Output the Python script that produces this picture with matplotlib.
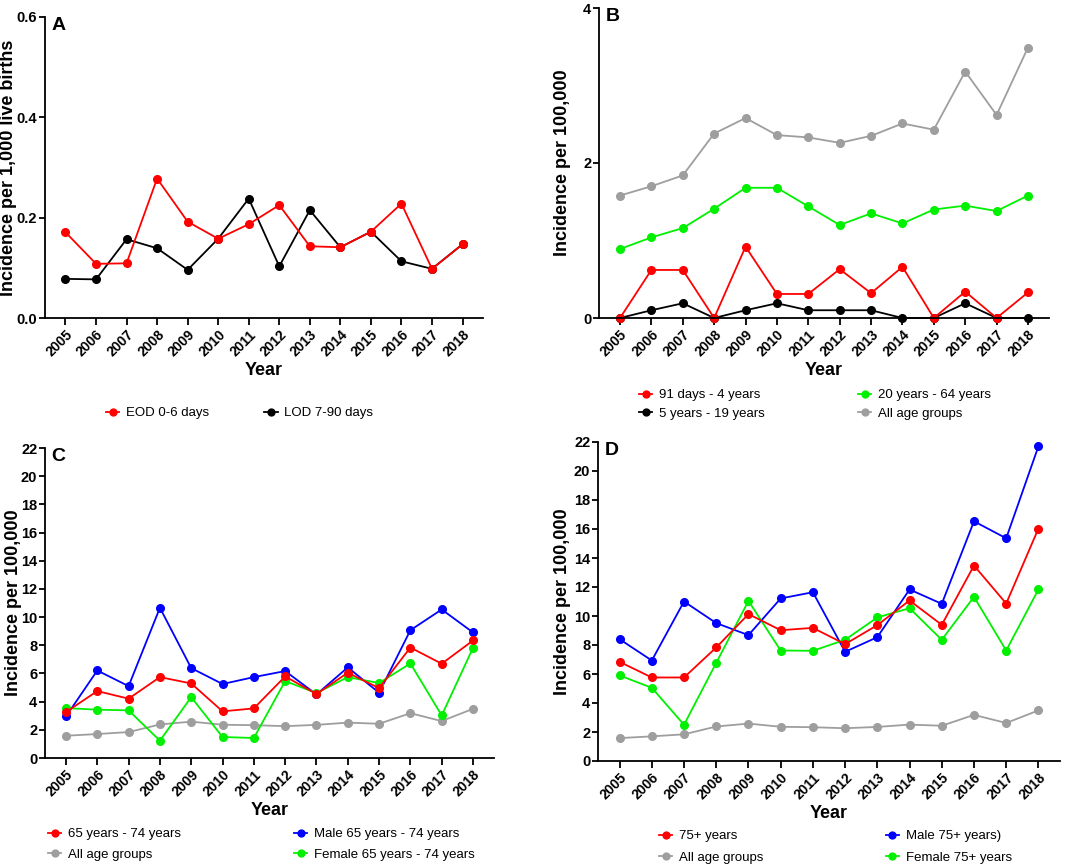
import numpy as np
import matplotlib
matplotlib.use("Agg")
import matplotlib.pyplot as plt

plt.rcParams['font.family'] = ['Liberation Sans', 'DejaVu Sans']

years = list(range(2005, 2019))

# panel A - per 1,000 live births
eod = [0.171, 0.108, 0.109, 0.278, 0.192, 0.158, 0.187, 0.225, 0.143, 0.141, 0.172, 0.228, 0.098, 0.147]
lod = [0.078, 0.077, 0.157, 0.139, 0.096, 0.158, 0.238, 0.103, 0.215, 0.141, 0.172, 0.113, 0.098, 0.147]

# panel B - per 100,000
all_ages = [1.58, 1.70, 1.84, 2.38, 2.58, 2.36, 2.33, 2.26, 2.35, 2.51, 2.43, 3.18, 2.62, 3.49]
age_20_64 = [0.89, 1.04, 1.16, 1.41, 1.68, 1.68, 1.44, 1.20, 1.35, 1.22, 1.40, 1.45, 1.38, 1.58]
age_91d_4y = [0.0, 0.62, 0.62, 0.0, 0.92, 0.31, 0.31, 0.63, 0.32, 0.66, 0.0, 0.34, 0.0, 0.33]
age_5_19 = [0.0, 0.10, 0.19, 0.0, 0.10, 0.19, 0.10, 0.10, 0.10, 0.0, 0.0, 0.19, 0.0, 0.0]

# panel C - 65 to 74 years
age_65_74 = [3.26, 4.75, 4.21, 5.74, 5.29, 3.31, 3.52, 5.79, 4.54, 6.05, 4.96, 7.84, 6.69, 8.34]
male_65_74 = [2.95, 6.21, 5.10, 10.66, 6.38, 5.25, 5.74, 6.17, 4.51, 6.43, 4.63, 9.07, 10.54, 8.91]
female_65_74 = [3.54, 3.43, 3.38, 1.23, 4.32, 1.49, 1.42, 5.46, 4.61, 5.74, 5.32, 6.71, 3.02, 7.82]

# panel D - 75+ years
age_75 = [6.84, 5.76, 5.76, 7.83, 10.13, 9.02, 9.18, 8.06, 9.37, 11.07, 9.39, 13.48, 10.86, 16.03]
male_75 = [8.40, 6.93, 11.00, 9.51, 8.68, 11.21, 11.64, 7.53, 8.54, 11.83, 10.84, 16.53, 15.36, 21.70]
female_75 = [5.90, 5.05, 2.50, 6.77, 11.04, 7.62, 7.60, 8.36, 9.90, 10.54, 8.36, 11.32, 7.62, 11.83]

RED = '#FF0000'
GREEN = '#00F000'
BLUE = '#0000FF'
GRAY = '#9E9E9E'
BLACK = '#000000'

W, H = 1084, 868
fig = plt.figure(figsize=(W / 100, H / 100), dpi=100)


def px_axes(left, top, right, bottom):
    ax = fig.add_axes([left / W, 1 - bottom / H, (right - left) / W, (bottom - top) / H])
    ax._px_left, ax._px_width = left, right - left
    return ax


def style(ax, ylim, yticks, ylabel, yfmt, letter, ylab_x):
    ax.set_xlim(2004.33, 2018.67)
    ax.set_ylim(*ylim)
    ax.set_yticks(yticks)
    ax.set_yticklabels([yfmt.format(v) for v in yticks], fontsize=10.5, fontweight='bold')
    ax.set_xticks(years)
    ax.set_xticklabels([str(y) for y in years], rotation=45, ha='right',
                       rotation_mode='anchor', fontsize=10, fontweight='bold')
    for s in ['top', 'right']:
        ax.spines[s].set_visible(False)
    for s in ['left', 'bottom']:
        ax.spines[s].set_linewidth(1.3)
    ax.tick_params(axis='x', width=1.3, length=5, pad=2)
    ax.tick_params(axis='y', width=1.3, length=4, pad=1.5)
    ax.set_xlabel('Year', fontsize=13, fontweight='bold', labelpad=2)
    ax.set_ylabel(ylabel, fontsize=13, fontweight='bold')
    # ylab_x is the right edge of the rotated label, in figure pixels
    ax.yaxis.set_label_coords((ylab_x - ax._px_left) / ax._px_width, 0.5)
    ax.text(0.015, 1.0, letter, transform=ax.transAxes, fontsize=14,
            fontweight='bold', va='top', ha='left')


def line(ax, y, color, label):
    ax.plot(years, y, color=color, lw=1.3, marker='o', ms=5.5, label=label, clip_on=False)


def legend(ax, order, x, y, colsp, rowsp=0.5, ncol=2):
    handles, labels = ax.get_legend_handles_labels()
    lut = dict(zip(labels, handles))
    ax.legend([lut[k] for k in order], order, loc='upper left',
              bbox_to_anchor=(x / W, 1 - y / H), bbox_transform=fig.transFigure,
              ncol=ncol, frameon=False, fontsize=9.5, handlelength=1.0,
              handletextpad=0.5, columnspacing=colsp, borderpad=0,
              borderaxespad=0, labelspacing=rowsp, markerscale=0.9)


# A
axA = px_axes(45, 17, 483, 318)
line(axA, lod, BLACK, 'LOD 7-90 days')
line(axA, eod, RED, 'EOD 0-6 days')
style(axA, (0, 0.6), [0.0, 0.2, 0.4, 0.6], 'Incidence per 1,000 live births', '{:.1f}', 'A', 17)
legend(axA, ['EOD 0-6 days', 'LOD 7-90 days'], 106, 407, 4.2)

# B
axB = px_axes(599, 8, 1049, 318)
line(axB, all_ages, GRAY, 'All age groups')
line(axB, age_20_64, GREEN, '20 years - 64 years')
line(axB, age_5_19, BLACK, '5 years - 19 years')
line(axB, age_91d_4y, RED, '91 days - 4 years')
style(axB, (0, 4), [0, 2, 4], 'Incidence per 100,000', '{:d}', 'B', 571)
legend(axB, ['91 days - 4 years', '5 years - 19 years', '20 years - 64 years', 'All age groups'],
       639, 389, 7.1, 0.5)

# C
axC = px_axes(45, 448, 494, 758)
line(axC, all_ages, GRAY, 'All age groups')
line(axC, male_65_74, BLUE, 'Male 65 years - 74 years')
line(axC, female_65_74, GREEN, 'Female 65 years - 74 years')
line(axC, age_65_74, RED, '65 years - 74 years')
style(axC, (0, 22), list(range(0, 23, 2)), 'Incidence per 100,000', '{:d}', 'C', 22)
legend(axC, ['65 years - 74 years', 'All age groups', 'Male 65 years - 74 years',
             'Female 65 years - 74 years'], 48, 828, 8.6, 0.65)

# D
axD = px_axes(598, 442, 1060, 761)
line(axD, all_ages, GRAY, 'All age groups')
line(axD, male_75, BLUE, 'Male 75+ years)')
line(axD, female_75, GREEN, 'Female 75+ years')
line(axD, age_75, RED, '75+ years')
style(axD, (0, 22), list(range(0, 23, 2)), 'Incidence per 100,000', '{:d}', 'D', 571)
legend(axD, ['75+ years', 'All age groups', 'Male 75+ years)', 'Female 75+ years'],
       659, 830, 9.3, 0.7)

fig.savefig('out.png', dpi=100)
